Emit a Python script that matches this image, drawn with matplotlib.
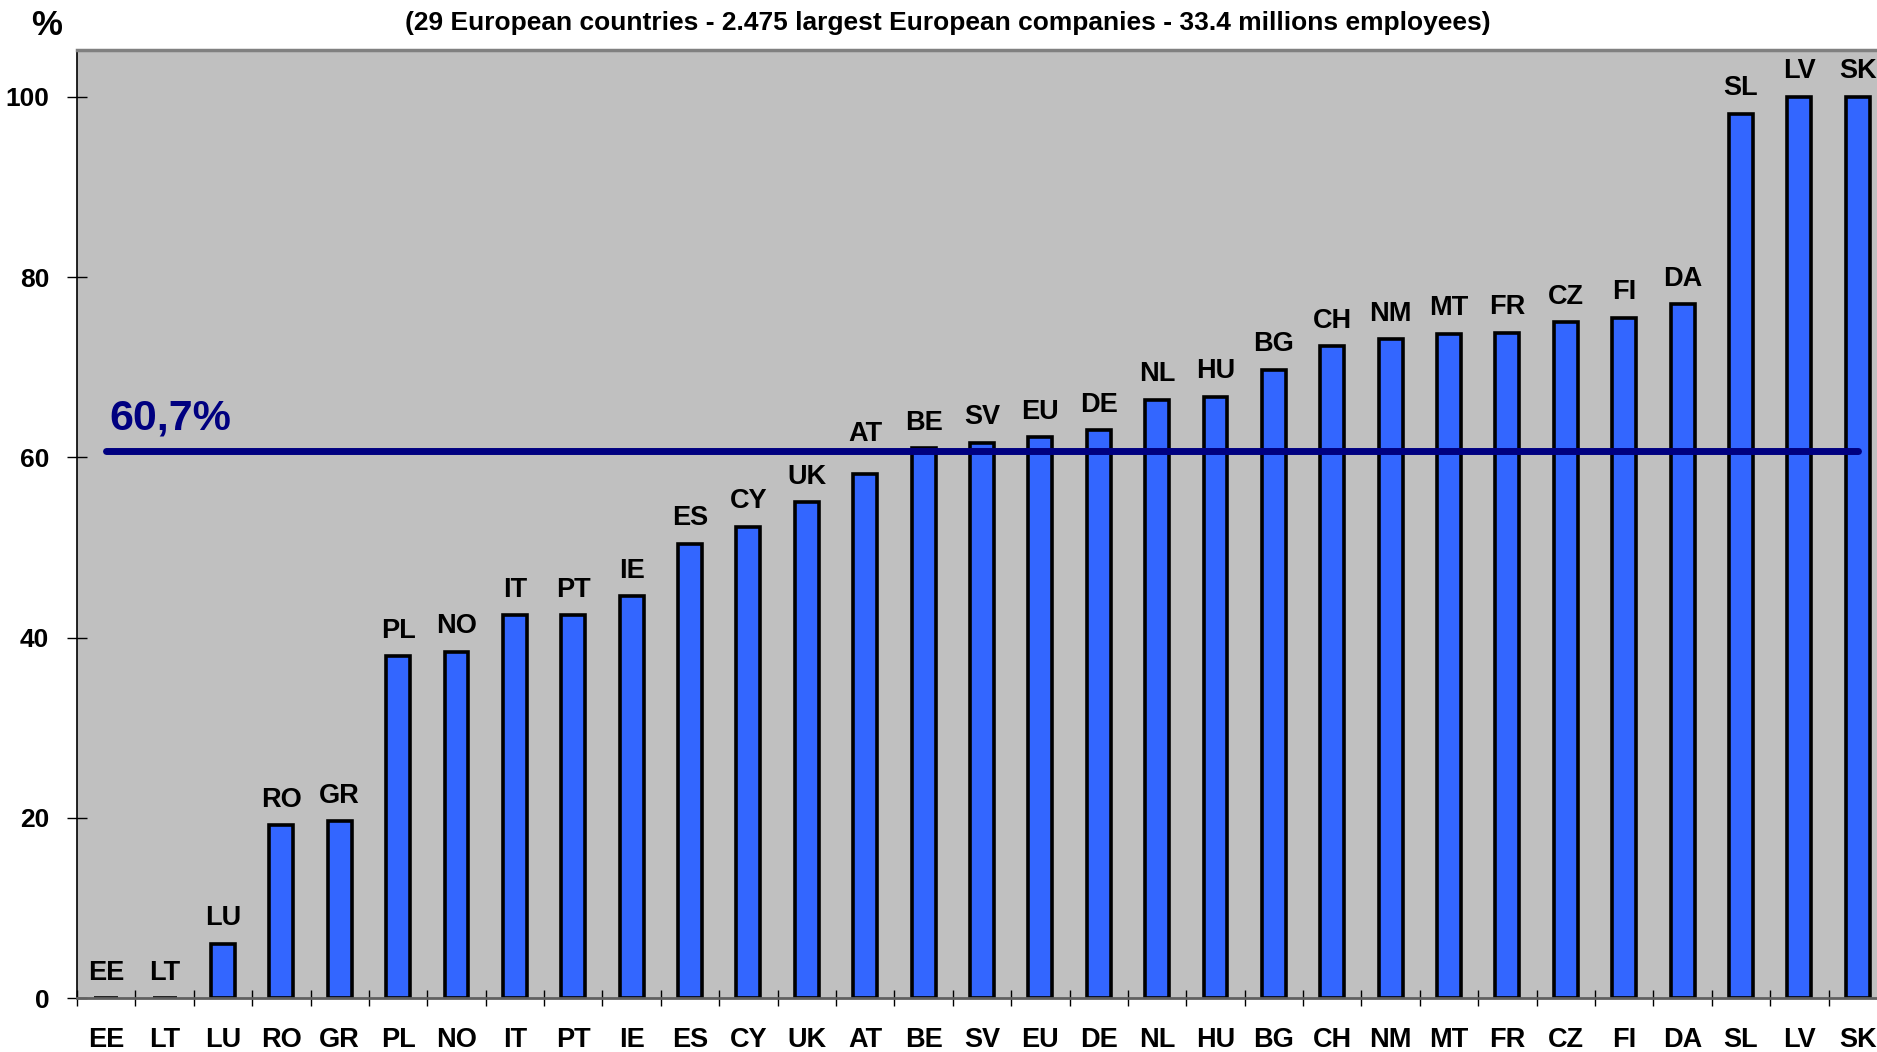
import numpy as np
import matplotlib
matplotlib.use("Agg")
import matplotlib.pyplot as plt
from matplotlib.ticker import FixedLocator

plt.rcParams['font.family'] = ['Liberation Sans', 'DejaVu Sans']
plt.rcParams['font.weight'] = 'bold'

# data
countries = ["EE", "LT", "LU", "RO", "GR", "PL", "NO", "IT", "PT", "IE", "ES", "CY", "UK",
             "AT", "BE", "SV", "EU", "DE", "NL", "HU", "BG", "CH", "NM", "MT", "FR", "CZ",
             "FI", "DA", "SL", "LV", "SK"]
values = [0, 0, 6.0, 19.2, 19.6, 37.9, 38.4, 42.5, 42.5, 44.6, 50.4, 52.3, 55.0,
          58.1, 61.0, 61.6, 62.2, 63.0, 66.4, 66.7, 69.7, 72.3, 73.1, 73.7, 73.8, 75.0,
          75.5, 77.0, 98.1, 100, 100]
average = 60.7
avg_label = "60,7%"
subtitle = "(29 European countries - 2.475 largest European companies - 33.4 millions employees)"
yticks = [0, 20, 40, 60, 80, 100]

fig = plt.figure(figsize=(18.77, 10.52), dpi=100)
ax = fig.add_axes([0.041, 0.0513, 0.9643, 0.9012])
ax.set_facecolor("#c0c0c0")

x = np.arange(len(countries))
ax.bar(x, values, width=0.41, color="#3366ff", edgecolor="black", linewidth=2.6, zorder=2)

for xi, v, name in zip(x, values, countries):
    dy = 9
    if name == "AT":   # lifted above the average line in the original
        dy = 20
    ax.annotate(name, (xi, v), xytext=(0, dy), textcoords="offset points",
                ha="center", va="bottom", fontsize=19.5, fontweight="bold")

ax.plot([x[0], x[-1]], [average, average], color="#000080", linewidth=5,
        solid_capstyle="round", zorder=3)
ax.text(0.05, average + 1.4, avg_label, color="#000080", fontsize=31,
        fontweight="bold", ha="left", va="bottom")

ax.set_xlim(-0.5, len(countries) - 0.5)
ax.set_ylim(0, 105.2)
ax.set_yticks(yticks)
ax.set_xticks(x)
ax.set_xticklabels(countries)
ax.xaxis.set_minor_locator(FixedLocator(np.arange(-0.5, len(countries), 1.0)))
ax.tick_params(axis="x", which="major", length=0, pad=21, labelsize=19.5)
ax.tick_params(axis="x", which="minor", length=12, direction="inout", width=1)
ax.tick_params(axis="y", length=14, direction="inout", width=1, pad=13, labelsize=19)

ax.spines["top"].set_color("#808080")
ax.spines["top"].set_linewidth(2.5)
ax.spines["right"].set_visible(False)
ax.spines["left"].set_linewidth(1.2)
ax.spines["bottom"].set_color("#606060")
ax.spines["bottom"].set_linewidth(2)

fig.text(0.0165, 0.976, "%", fontsize=25, fontweight="bold", ha="left", va="center")
fig.text(0.505, 0.978, subtitle, fontsize=19, fontweight="bold", ha="center", va="center")

fig.savefig("out.png", dpi=100)
